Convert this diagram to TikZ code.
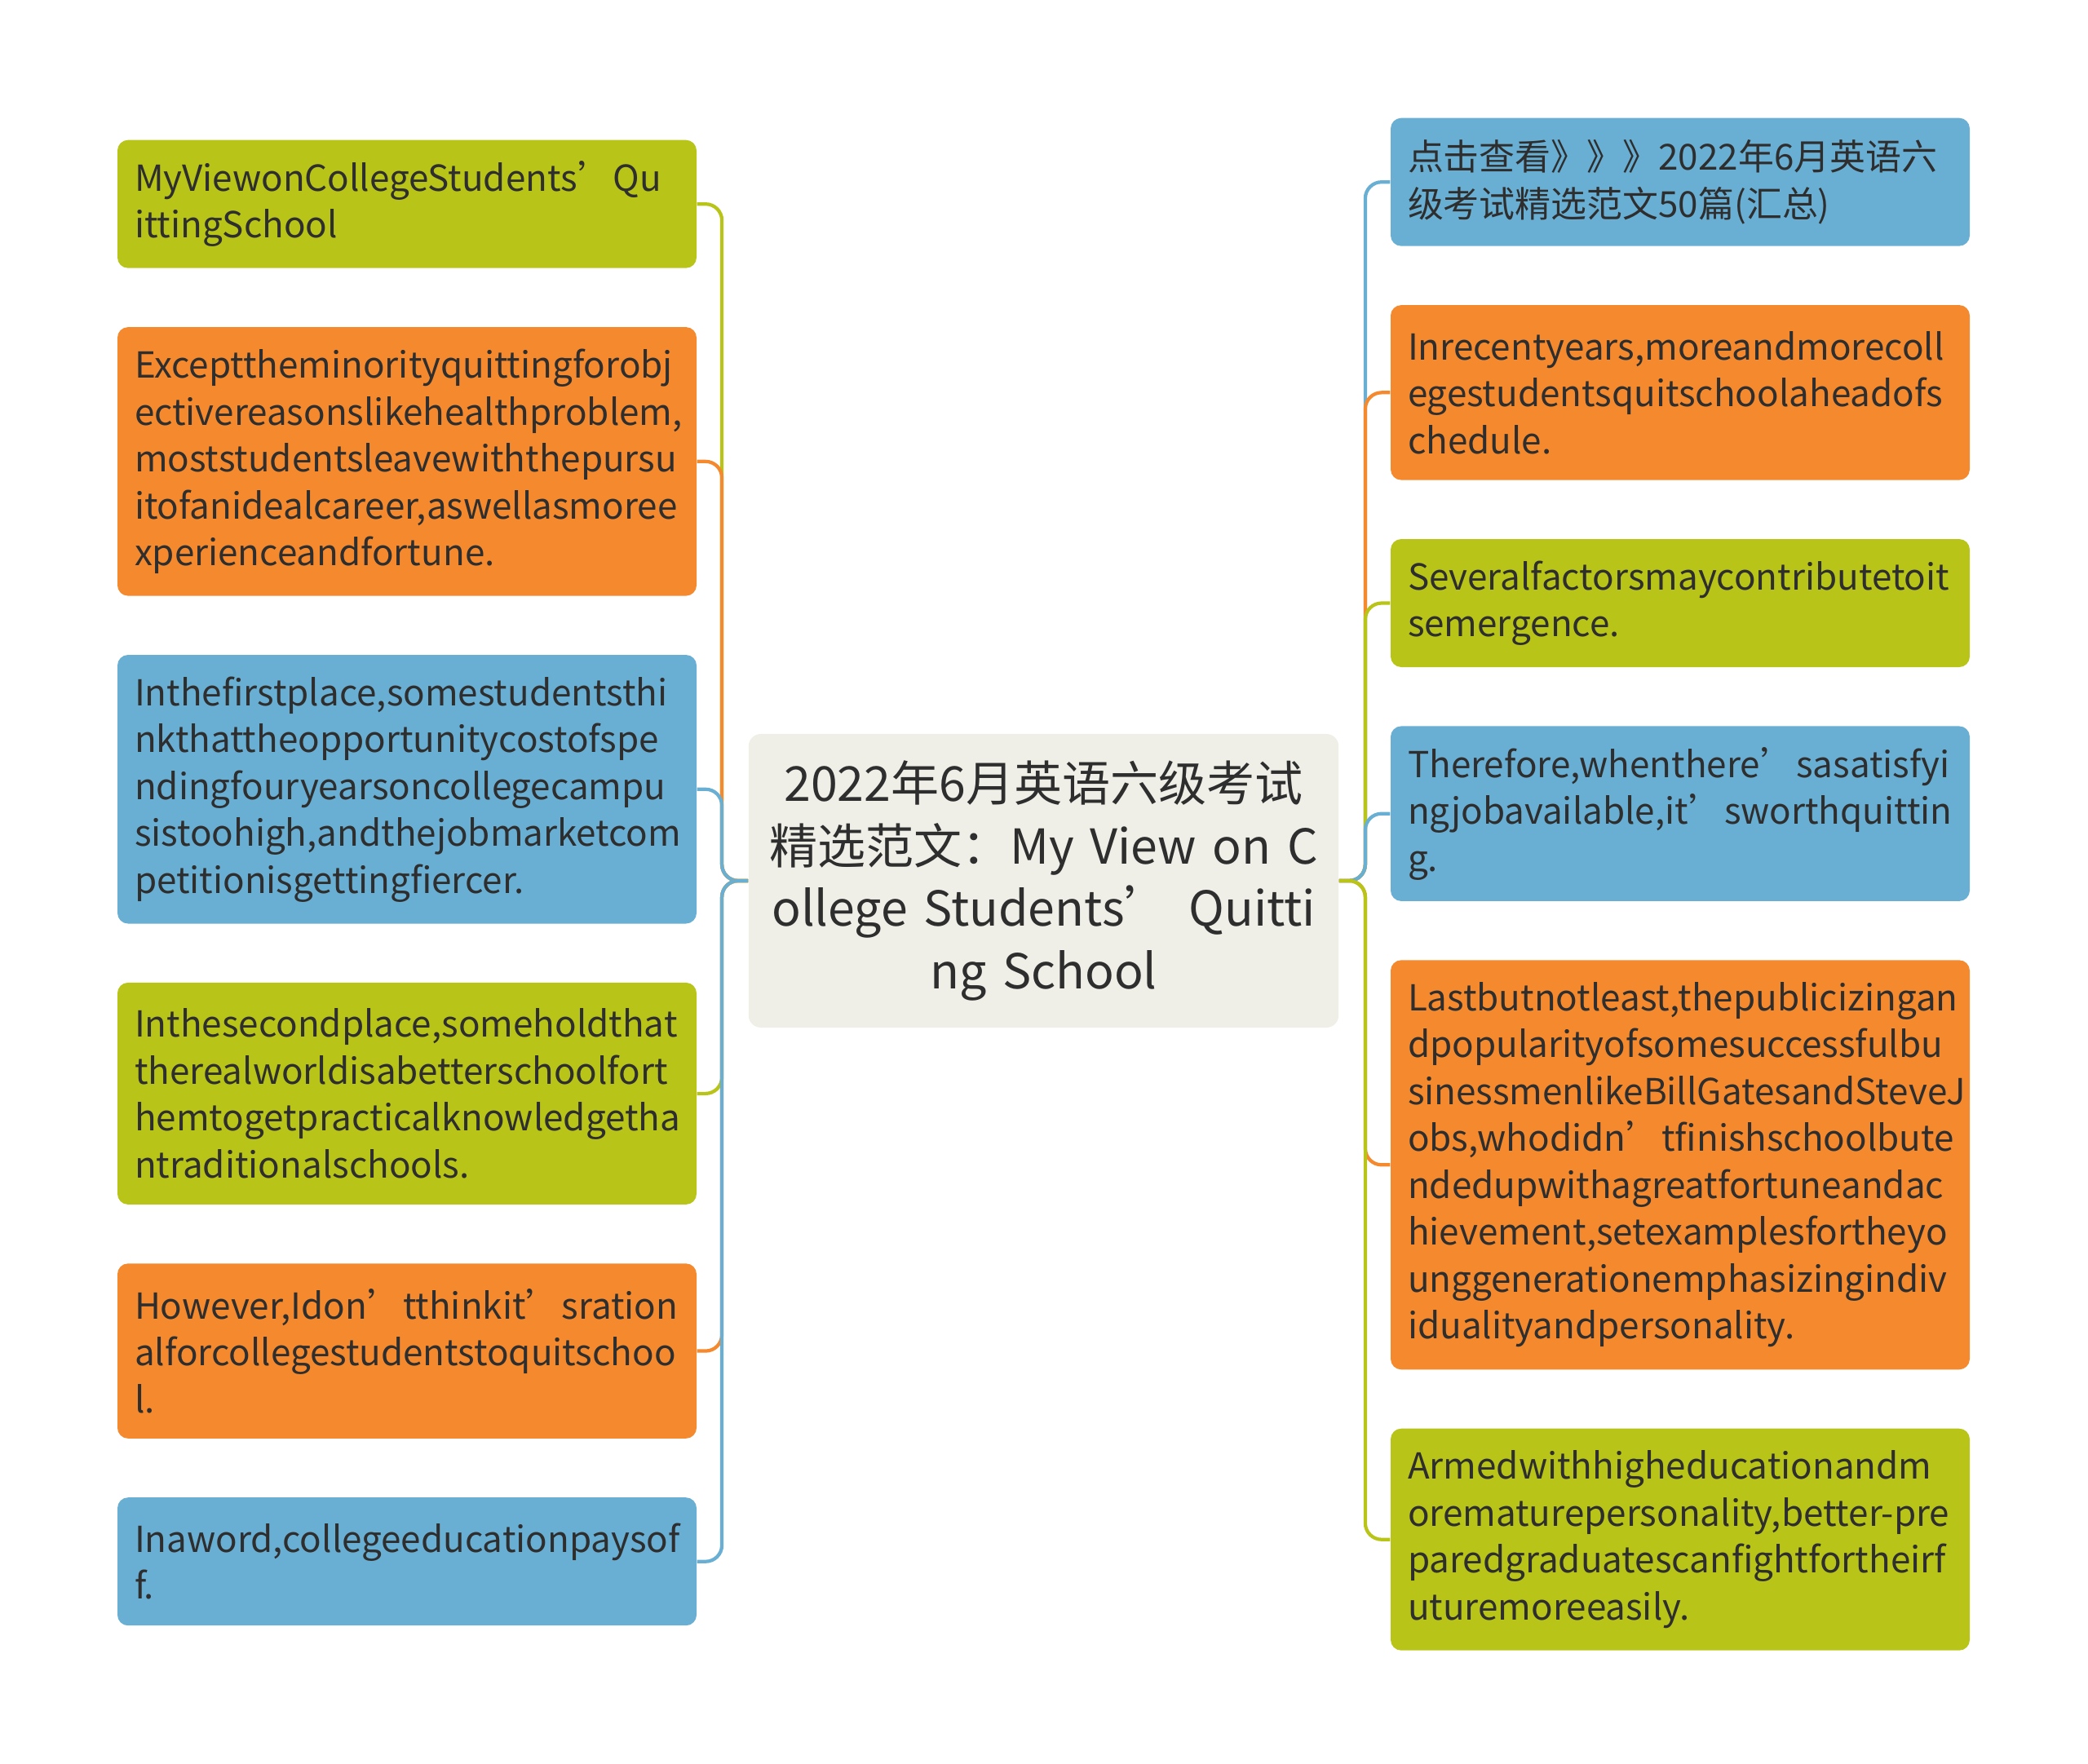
\documentclass[tikz,border=0pt]{standalone}
\usepackage{fontspec}
\setmainfont{Noto Sans CJK SC}
\usepackage{xcolor}
\usetikzlibrary{positioning}

\definecolor{mapgreen}{HTML}{B8C418}
\definecolor{maporange}{HTML}{F5892D}
\definecolor{mapblue}{HTML}{69AFD3}
\definecolor{mapcore}{HTML}{EFEFE8}
\definecolor{maptext}{HTML}{2E2E2E}

\begin{document}
\begin{tikzpicture}[
  box/.style={rounded corners=0.13cm, text width=6.68cm, inner xsep=0.21cm, inner ysep=0.1cm,
    align=left, text=maptext, font=\fontsize{12.5pt}{16.36pt}\selectfont},
  rows/.style={minimum height=#1*0.575cm+0.42cm},
  greenbox/.style={box, fill=mapgreen},
  orangebox/.style={box, fill=maporange},
  bluebox/.style={box, fill=mapblue},
  core/.style={rounded corners=0.15cm, fill=mapcore, minimum width=7.23cm, minimum height=3.6cm,
    text width=7.0cm, align=center, text=maptext, font=\fontsize{16.8pt}{21.8pt}\selectfont},
  link/.style={line width=1.2pt, rounded corners=0.2cm},
  node distance=0.71cm,
]
\useasboundingbox (0,0) rectangle (25.6,-21.63);

% Centre
\node[core] (ctr) at (12.795,-10.80)
  {2022年6月英语六级考试\\精选范文：My View on C\\ollege Students’ Quitti\\ng School};

% Left branch
\node[greenbox, rows=2, anchor=north] (l1) at (4.99,-1.71)
  {MyViewonCollegeStudents’Qu\\ittingSchool};
\node[orangebox, rows=5, below=of l1] (l2)
  {Excepttheminorityquittingforobj\\ectivereasonslikehealthproblem,\\moststudentsleavewiththepursu\\itofanidealcareer,aswellasmoree\\xperienceandfortune.};
\node[bluebox, rows=5, below=of l2] (l3)
  {Inthefirstplace,somestudentsthi\\nkthattheopportunitycostofspe\\ndingfouryearsoncollegecampu\\sistoohigh,andthejobmarketcom\\petitionisgettingfiercer.};
\node[greenbox, rows=4, below=of l3] (l4)
  {Inthesecondplace,someholdthat\\therealworldisabetterschoolfort\\hemtogetpracticalknowledgetha\\ntraditionalschools.};
\node[orangebox, rows=3, below=of l4] (l5)
  {However,Idon’tthinkit’sration\\alforcollegestudentstoquitschoo\\l.};
\node[bluebox, rows=2, below=of l5] (l6)
  {Inaword,collegeeducationpaysof\\f.};

% Right branch
\node[bluebox, rows=2, anchor=north] (r1) at (20.60,-1.44)
  {点击查看》》》2022年6月英语六\\级考试精选范文50篇(汇总)};
\node[orangebox, rows=3, below=of r1] (r2)
  {Inrecentyears,moreandmorecoll\\egestudentsquitschoolaheadofs\\chedule.};
\node[greenbox, rows=2, below=of r2] (r3)
  {Severalfactorsmaycontributetoit\\semergence.};
\node[bluebox, rows=3, below=of r3] (r4)
  {Therefore,whenthere’sasatisfyi\\ngjobavailable,it’sworthquittin\\g.};
\node[orangebox, rows=8, below=of r4] (r5)
  {Lastbutnotleast,thepublicizingan\\dpopularityofsomesuccessfulbu\\sinessmenlikeBillGatesandSteveJ\\obs,whodidn’tfinishschoolbute\\ndedupwithagreatfortuneandac\\hievement,setexamplesfortheyo\\unggenerationemphasizingindiv\\idualityandpersonality.};
\node[greenbox, rows=4, below=of r5] (r6)
  {Armedwithhigheducationandm\\orematurepersonality,better-pre\\paredgraduatescanfightfortheirf\\uturemoreeasily.};

% Connectors
\draw[link, mapgreen] (ctr.west) -- ++(-0.32,0) |- (l1.east);
\draw[link, maporange] (ctr.west) -- ++(-0.32,0) |- (l2.east);
\draw[link, mapblue] (ctr.west) -- ++(-0.32,0) |- (l3.east);
\draw[link, mapgreen] (ctr.west) -- ++(-0.32,0) |- (l4.east);
\draw[link, maporange] (ctr.west) -- ++(-0.32,0) |- (l5.east);
\draw[link, mapblue] (ctr.west) -- ++(-0.32,0) |- (l6.east);

\draw[link, mapblue] (ctr.east) -- ++(0.32,0) |- (r1.west);
\draw[link, maporange] (ctr.east) -- ++(0.32,0) |- (r2.west);
\draw[link, mapgreen] (ctr.east) -- ++(0.32,0) |- (r3.west);
\draw[link, mapblue] (ctr.east) -- ++(0.32,0) |- (r4.west);
\draw[link, maporange] (ctr.east) -- ++(0.32,0) |- (r5.west);
\draw[link, mapgreen] (ctr.east) -- ++(0.32,0) |- (r6.west);

\end{tikzpicture}
\end{document}
